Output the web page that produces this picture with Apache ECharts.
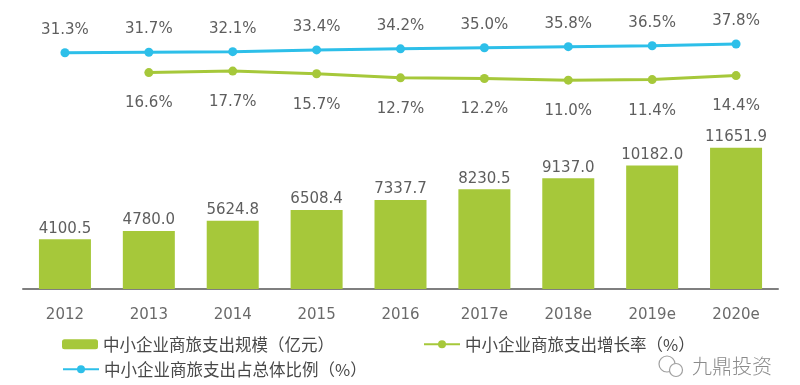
<!DOCTYPE html>
<html>
<head>
<meta charset="utf-8">
<script src="https://cdn.jsdelivr.net/npm/echarts@6/dist/echarts.min.js"></script>
<style>html,body{margin:0;padding:0;background:#fff}#c{width:800px;height:385px}</style>
</head>
<body>
<div id="c"></div>
<script>
const categories = ['2012','2013','2014','2015','2016','2017e','2018e','2019e','2020e'];
const scaleValues = [4100.5,4780.0,5624.8,6508.4,7337.7,8230.5,9137.0,10182.0,11651.9];
const growthRates = ['-',16.6,17.7,15.7,12.7,12.2,11.0,11.4,14.4];
const shareValues = [31.3,31.7,32.1,33.4,34.2,35.0,35.8,36.5,37.8];
const seriesNames = ['中小企业商旅支出规模（亿元）','中小企业商旅支出增长率（%）','中小企业商旅支出占总体比例（%）'];

const FONT = '"DejaVu Sans", "Noto Sans CJK SC", sans-serif';
const CJK = '"Noto Sans CJK SC", sans-serif';
const GREEN = '#a6c83a';
const BLUE = '#2dbfe9';
const TXT = '#5e5e5e';

const chart = echarts.init(document.getElementById('c'), null, {renderer:'canvas'});
chart.setOption({
  animation:false,
  backgroundColor:'#fff',
  textStyle:{fontFamily:FONT},
  grid:[
    {left:23, right:22, top:101, height:188},
    {left:23, right:22, top:41, height:54}
  ],
  xAxis:[
    {type:'category', gridIndex:0, data:categories,
     axisLine:{lineStyle:{color:'#7f7f7f', width:2}},
     axisTick:{show:false},
     axisLabel:{color:'#6a6a6a', fontSize:15, fontFamily:FONT, margin:19}},
    {type:'category', gridIndex:1, data:categories, show:false}
  ],
  yAxis:[
    {type:'value', gridIndex:0, min:0, max:15500, show:false, splitLine:{show:false}},
    {type:'value', gridIndex:1, min:0, max:40, show:false, splitLine:{show:false}}
  ],
  legend:[
    {data:[seriesNames[0]], left:57, top:331, itemWidth:36, itemHeight:10, itemGap:5,
     textStyle:{fontSize:16.5, color:'#484848', fontFamily:CJK}},
    {data:[seriesNames[1]], left:418, top:331, itemWidth:36, itemHeight:10,
     textStyle:{fontSize:16.5, color:'#484848', fontFamily:CJK}},
    {data:[seriesNames[2]], left:57, top:356, itemWidth:36, itemHeight:10,
     textStyle:{fontSize:16.5, color:'#484848', fontFamily:CJK}}
  ],
  graphic:[
    {type:'circle', shape:{cx:667, cy:364, r:8}, style:{fill:'none', stroke:'#a0a0a0', lineWidth:1.2}, silent:true},
    {type:'circle', shape:{cx:676, cy:370, r:6.5}, style:{fill:'#fff', stroke:'#a0a0a0', lineWidth:1.2}, silent:true},
    {type:'text', left:692, top:356, style:{text:'九鼎投资', fontSize:20, fill:'#8a8a8a', fontFamily:CJK, fontWeight:300}, silent:true}
  ],
  series:[
    {name:seriesNames[0], type:'bar', xAxisIndex:0, yAxisIndex:0, data:scaleValues,
     barWidth:52, itemStyle:{color:GREEN},
     label:{show:true, position:'top', distance:3, color:TXT, fontSize:15, fontFamily:FONT,
            formatter:p=>p.value.toFixed(1)}},
    {name:seriesNames[1], type:'line', xAxisIndex:1, yAxisIndex:1, data:growthRates,
     symbol:'circle', symbolSize:9, lineStyle:{color:GREEN, width:3}, itemStyle:{color:GREEN},
     label:{show:true, position:'bottom', distance:19, color:TXT, fontSize:15, fontFamily:FONT,
            formatter:p=>p.value.toFixed(1)+'%'}},
    {name:seriesNames[2], type:'line', xAxisIndex:1, yAxisIndex:1, data:shareValues,
     symbol:'circle', symbolSize:9, lineStyle:{color:BLUE, width:3}, itemStyle:{color:BLUE},
     label:{show:true, position:'top', distance:11, color:TXT, fontSize:15, fontFamily:FONT,
            formatter:p=>p.value.toFixed(1)+'%'}}
  ]
});
</script>
</body>
</html>
